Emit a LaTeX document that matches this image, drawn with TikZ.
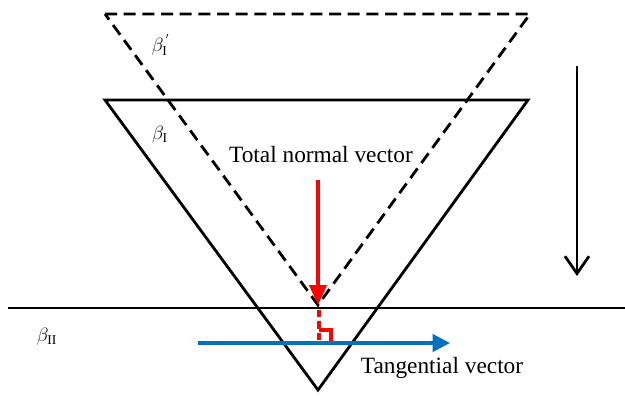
\documentclass[tikz,border=0pt]{standalone}
\usepackage{fontspec}
\setmainfont{Liberation Serif}
\usetikzlibrary{arrows.meta}
\definecolor{myblue}{RGB}{0,112,192}
\begin{document}
\begin{tikzpicture}[x=0.75pt,y=-0.75pt,
  blk/.style={line width=2.1pt,black},
  lbl/.style={font=\fontsize{14.5}{16}\selectfont,inner sep=0pt},
  big/.style={font=\fontsize{17.5}{20}\selectfont,inner sep=0pt}]
\useasboundingbox (0,0) rectangle (625,396);
% dashed triangle
\coordinate (d1) at (105,14);
\coordinate (d2) at (530,14);
\coordinate (d3) at (318,305);
\draw[blk,dash pattern=on 9pt off 5pt] (d1) -- (d2) -- (d3) -- cycle;
% solid triangle
\coordinate (s1) at (105,100);
\coordinate (s2) at (528,100);
\coordinate (s3) at (318,390);
\draw[blk,line join=miter] (s1) -- (s2) -- (s3) -- cycle;
% horizontal line
\coordinate (h1) at (8,308);
\coordinate (h2) at (625,308);
\draw[blk] (h1) -- (h2);
% red normal vector
\coordinate (r0) at (318,180);
\coordinate (r1) at (318,305);
\draw[red,line width=2.4pt,-{Triangle[length=15pt,width=13pt]}] (r0) -- (r1);
\coordinate (r2) at (319,310);
\coordinate (r3) at (319,342);
\draw[red,line width=2.3pt,dash pattern=on 5.5pt off 3pt] (r2) -- (r3);
\coordinate (c1) at (319,330);
\coordinate (c2) at (331,330);
\coordinate (c3) at (331,342);
\draw[red,line width=2.3pt] (c1) -- (c2) -- (c3);
% blue tangential vector
\coordinate (b0) at (198,343);
\coordinate (b1) at (450,343);
\draw[myblue,line width=2.4pt,-{Triangle[length=13pt,width=13pt]}] (b0) -- (b1);
% black motion arrow
\coordinate (m0) at (577,66);
\coordinate (m1) at (577,276);
\draw[blk,-{Straight Barb[length=13pt,width=18pt,line width=2.1pt]}] (m0) -- (m1);
% labels
\node[lbl] (la) at (161,45) {$\beta_{\mathrm{I}}^{\,'}$};
\node[lbl] (lb) at (160,135) {$\beta_{\mathrm{I}}$};
\node[lbl] (lc) at (47,337) {$\beta_{\mathrm{II}}$};
\node[big] (tn) at (321,155) {Total normal vector};
\node[big] (tv) at (442,368) {Tangential vector};
\end{tikzpicture}
\end{document}
